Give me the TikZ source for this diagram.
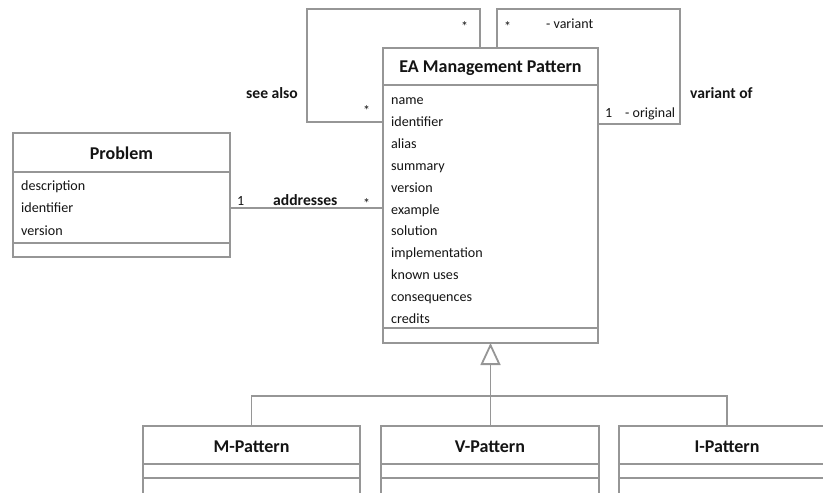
\documentclass[tikz,border=0pt]{standalone}
\usepackage{fontspec}
\setmainfont{Carlito}
\usetikzlibrary{arrows.meta}
\definecolor{umlline}{RGB}{150,150,150}
\definecolor{umltext}{RGB}{20,20,20}
\tikzset{
  line/.style={draw=umlline, line width=1.8pt, line join=miter},
  classbox/.style={line, rectangle, inner sep=0pt, outer sep=0pt, anchor=north west, fill=white},
  title/.style={font=\bfseries\fontsize{18}{20}\selectfont, text=umltext, inner sep=0pt},
  attr/.style={font=\fontsize{14.1}{16}\selectfont, text=umltext, inner sep=0pt, anchor=base west},
  role/.style={font=\fontsize{14}{16}\selectfont, text=umltext, inner sep=0pt, anchor=base west},
  assoc/.style={font=\bfseries\fontsize{15.6}{17}\selectfont, text=umltext, inner sep=0pt, anchor=base west},
  inherit/.style={line, -{Triangle[open, length=22pt, width=20pt, line width=1.8pt]}},
}
\begin{document}
\begin{tikzpicture}[x=1pt, y=-1pt]
\useasboundingbox (0,0) rectangle (823,493);
\clip (0,0) rectangle (823,493);

% ---- self associations of the pattern class (drawn first, box covers ends)
\node[classbox, minimum width=215pt, minimum height=295pt] (ea) at (383,48) {};
\draw[line] ([xshift=97pt]ea.north west) |- (307,9) |- ([yshift=-74pt]ea.north west);
\draw[line] ([xshift=114pt]ea.north west) |- (680,9) |- ([yshift=-76pt]ea.north east);

% ---- EA Management Pattern
\draw[line] (383,85) -- (598,85);
\draw[line] (383,328) -- (598,328);
\node[title] (eat) at (490.5,68) {EA Management Pattern};
\foreach \a [count=\i from 0] in {name, identifier, alias, summary, version, example, solution, implementation, known uses, consequences, credits}
  \node[attr] (ea\i) at (391,104.5+21.9*\i) {\a};

% ---- Problem
\node[classbox, minimum width=217pt, minimum height=124pt] (prob) at (13,133) {};
\draw[line] (13,172) -- (230,172);
\draw[line] (13,243) -- (230,243);
\node[title] (probt) at (121.5,153) {Problem};
\node[attr] (p0) at (21,190.5) {description};
\node[attr] (p1) at (21,212.5) {identifier};
\node[attr] (p2) at (21,235) {version};

% ---- association "addresses"
\draw[line] ([yshift=-13pt]prob.east) coordinate (a1) -- (a1 -| ea.west);
\node[role] (m1) at (237,205) {1};
\node[assoc] (adr) at (273,205) {addresses};
\node[role] (m2) at (363,208) {*};

% ---- labels of the self associations
\node[assoc, anchor=base east] (sa) at (298,98) {see also};
\node[role] (s1) at (461,31) {*};
\node[role] (s2) at (363,115) {*};
\node[assoc] (vo) at (690,98) {variant of};
\node[role] (v1) at (504,31) {*};
\node[role] (v2) at (546,28) {- variant};
\node[role] (v3) at (605,117.5) {1};
\node[role] (v4) at (625,117.5) {- original};

% ---- subclasses
\node[classbox, minimum width=217pt, minimum height=70pt] (m) at (143,426) {};
\node[classbox, minimum width=218pt, minimum height=70pt] (v) at (381,426) {};
\node[classbox, minimum width=216pt, minimum height=70pt] (i) at (619,426) {};
\foreach \b in {m,v,i} {
  \draw[line] (\b.north west |- 0,464) -- (\b.north east |- 0,464);
  \draw[line] (\b.north west |- 0,478) -- (\b.north east |- 0,478);
}
\node[title] (mt) at (251.5,447) {M-Pattern};
\node[title] (vt) at (490,447) {V-Pattern};
\node[title] (it) at (727,447) {I-Pattern};

% ---- generalization
\coordinate (bus) at (490.5,396);
\draw[line] (m.north) |- (bus) -| (i.north);
\draw[inherit] (v.north -| bus) -- (ea.south -| bus);
\end{tikzpicture}
\end{document}
